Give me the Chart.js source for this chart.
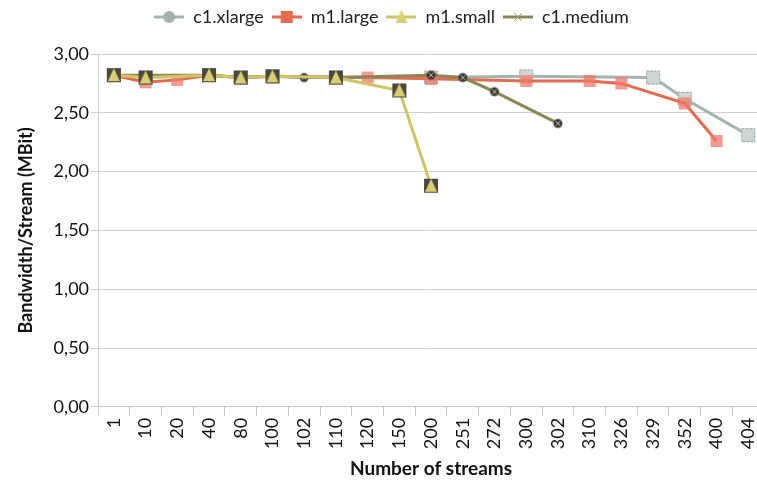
<!DOCTYPE html>
<html>
<head>
<meta charset="utf-8">
<script src="https://cdn.jsdelivr.net/npm/chart.js@4"></script>
<style>
  html, body { margin: 0; padding: 0; background: #fff; overflow: hidden; }
  #wrap { width: 772px; height: 484px; }
</style>
</head>
<body>
<div id="wrap"><canvas id="chart"></canvas></div>
<script>
const categories = ['1', '10', '20', '40', '80', '100', '102', '110', '120', '150', '200',
  '251', '272', '300', '302', '310', '326', '329', '352', '400', '404'];

const c1xlarge = [2.82, 2.80, null, 2.82, 2.80, 2.81, null, 2.80, null, null, 2.80,
  null, null, 2.81, null, null, null, 2.80, 2.62, null, 2.31];
const m1large = [2.82, 2.76, 2.78, 2.82, 2.80, 2.81, null, null, 2.80, null, 2.79,
  null, null, 2.77, null, 2.77, 2.75, null, 2.58, 2.26, null];
const m1small = [2.82, 2.80, null, 2.82, 2.80, 2.81, null, 2.80, null, 2.69, 1.88,
  null, null, null, null, null, null, null, null, null, null];
const c1medium = [2.82, null, null, 2.82, 2.80, 2.81, 2.80, 2.80, null, null, 2.82,
  2.80, 2.68, null, 2.41, null, null, null, null, null, null];

const yTicks = [0, 0.5, 1, 1.5, 2, 2.5, 3];

const FONT = "Lato, 'Open Sans', sans-serif";

// little canvases used as marker images (Excel-ish markers)
function marker(kind, withLine, lineColor) {
  const w = withLine ? 30 : 16, h = 16;
  const c = document.createElement('canvas');
  c.width = w; c.height = h;
  const g = c.getContext('2d');
  const cx = w / 2, cy = h / 2;
  if (withLine) {
    g.strokeStyle = lineColor; g.lineWidth = 3;
    g.beginPath(); g.moveTo(0, cy); g.lineTo(w, cy); g.stroke();
  }
  if (kind === 'xlarge') {
    if (withLine) {
      g.fillStyle = lineColor;
      g.beginPath(); g.arc(cx, cy, 6, 0, Math.PI * 2); g.fill();
    } else {
      g.fillStyle = '#cfd7d4';
      g.fillRect(cx - 7, cy - 7, 14, 14);
      g.strokeStyle = '#8b9894'; g.lineWidth = 1; g.setLineDash([2, 2]);
      g.strokeRect(cx - 6.5, cy - 6.5, 13, 13);
      g.setLineDash([]);
    }
  } else if (kind === 'large') {
    g.fillStyle = withLine ? lineColor : 'rgba(238,120,105,0.75)';
    g.fillRect(cx - 6, cy - 6, 12, 12);
  } else if (kind === 'small') {
    if (!withLine) {
      g.fillStyle = '#4b4640';
      g.fillRect(cx - 7, cy - 7, 14, 14);
    }
    g.fillStyle = '#d9cf72';
    g.beginPath(); g.moveTo(cx, cy - 7); g.lineTo(cx + 6, cy + 6); g.lineTo(cx - 6, cy + 6); g.closePath(); g.fill();
  } else {
    if (withLine) {
      g.strokeStyle = '#a09a70'; g.lineWidth = 1;
      g.beginPath(); g.moveTo(cx - 4, cy - 4); g.lineTo(cx + 4, cy + 4);
      g.moveTo(cx + 4, cy - 4); g.lineTo(cx - 4, cy + 4); g.stroke();
    } else {
      g.fillStyle = '#3a3833';
      g.beginPath(); g.arc(cx, cy, 4.5, 0, Math.PI * 2); g.fill();
      g.strokeStyle = '#bdb9a8'; g.lineWidth = 1;
      g.beginPath(); g.moveTo(cx - 2.5, cy - 2.5); g.lineTo(cx + 2.5, cy + 2.5);
      g.moveTo(cx + 2.5, cy - 2.5); g.lineTo(cx - 2.5, cy + 2.5); g.stroke();
    }
  }
  return c;
}

const series = [
  { label: 'c1.xlarge', data: c1xlarge, color: '#a3b3ae', kind: 'xlarge', order: 4 },
  { label: 'm1.large', data: m1large, color: '#e66a4e', kind: 'large', order: 3 },
  { label: 'm1.small', data: m1small, color: '#cfc466', kind: 'small', order: 1 },
  { label: 'c1.medium', data: c1medium, color: '#8d8656', kind: 'medium', order: 2 }
];

// extra room under the legend
const legendGap = {
  id: 'legendGap',
  beforeInit(chart) {
    const fit = chart.legend.fit;
    chart.legend.fit = function () {
      fit.bind(chart.legend)();
      this.height += 18;
    };
  }
};

new Chart(document.getElementById('chart'), {
  type: 'line',
  data: {
    labels: categories,
    datasets: series.map(s => ({
      label: s.label,
      data: s.data,
      borderColor: s.color,
      backgroundColor: s.color,
      borderWidth: 3,
      spanGaps: true,
      tension: 0,
      order: s.order,
      pointStyle: marker(s.kind, false),
      legendIcon: marker(s.kind, true, s.color)
    }))
  },
  plugins: [legendGap],
  options: {
    responsive: true,
    maintainAspectRatio: false,
    animation: false,
    layout: { padding: { left: 11, right: 0, top: 0, bottom: 0 } },
    plugins: {
      tooltip: { enabled: false },
      legend: {
        position: 'top',
        labels: {
          usePointStyle: true,
          pointStyleWidth: 30,
          padding: 8,
          color: '#222',
          font: { family: FONT, size: 18 },
          generateLabels(chart) {
            return chart.data.datasets.map((ds, i) => ({
              text: ds.label,
              pointStyle: ds.legendIcon,
              fillStyle: ds.borderColor,
              strokeStyle: ds.borderColor,
              lineWidth: 0,
              hidden: false,
              datasetIndex: i,
              fontColor: '#222'
            }));
          }
        }
      }
    },
    scales: {
      x: {
        offset: true,
        grid: { offset: true, drawOnChartArea: false, color: '#c8c8c8', tickLength: 9 },
        border: { color: '#c8c8c8' },
        ticks: { color: '#111', font: { family: FONT, size: 18 }, maxRotation: 90, minRotation: 90, autoSkip: false, padding: 2 },
        title: { display: true, text: 'Number of streams', color: '#111', font: { family: FONT, size: 19, weight: 'bold' }, padding: { top: 6, bottom: 4 } }
      },
      y: {
        min: 0,
        max: 3,
        afterBuildTicks(axis) { axis.ticks = yTicks.map(v => ({ value: v })); },
        grid: { color: '#cfcfcf', tickLength: 7 },
        border: { color: '#c8c8c8' },
        ticks: { color: '#111', font: { family: FONT, size: 18 }, padding: 2,
          callback: v => v.toFixed(2).replace('.', ',') },
        title: { display: true, text: 'Bandwidth/Stream (MBit)', color: '#111', font: { family: FONT, size: 18, weight: 'bold' }, padding: { bottom: 15 } }
      }
    }
  }
});
</script>
</body>
</html>
